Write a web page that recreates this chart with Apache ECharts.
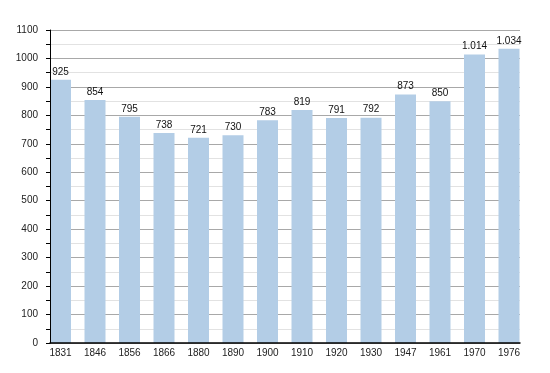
<!DOCTYPE html>
<html>
<head>
<meta charset="utf-8">
<script src="https://cdn.jsdelivr.net/npm/echarts@6/dist/echarts.min.js"></script>
<style>html,body{margin:0;padding:0;background:#fff;}#c{width:550px;height:373px;}</style>
</head>
<body>
<div id="c"></div>
<script>
const categories = ['1831','1846','1856','1866','1880','1890','1900','1910','1920','1930','1947','1961','1970','1976'];
const population = [925, 854, 795, 738, 721, 730, 783, 819, 791, 792, 873, 850, 1014, 1034];
const yTicks = [0,100,200,300,400,500,600,700,800,900,1000,1100];

function fmt(v){
  const s = String(v);
  return s.length > 3 ? s.slice(0, s.length-3) + '.' + s.slice(-3) : s;
}

const font = 'Liberation Sans, Arial, sans-serif';
const yMin = yTicks[0], yMax = yTicks[yTicks.length-1];
const chart = echarts.init(document.getElementById('c'), null, {renderer:'canvas'});
chart.setOption({
  animation: false,
  backgroundColor: '#fff',
  grid: [
    {left: 50, top: 30, width: 470, height: 313},
    {left: 43.25, top: 30, width: 483, height: 313}
  ],
  xAxis: [
    {type: 'category', gridIndex: 0, data: categories, boundaryGap: true, z: 5,
     axisLine: {show: true, lineStyle: {color: '#000', width: 1.5}},
     axisTick: {show: false}, axisLabel: {show: false}, splitLine: {show: false}},
    {type: 'category', gridIndex: 1, data: categories, boundaryGap: true,
     axisLine: {show: false}, axisTick: {show: false},
     axisLabel: {show: true, color: '#222', fontFamily: font, fontSize: 10, margin: 5},
     splitLine: {show: false}}
  ],
  yAxis: [
    {type: 'value', gridIndex: 0, min: yMin, max: yMax, interval: 100, z: 0,
     axisLine: {show: false}, axisTick: {show: false}, axisLabel: {show: false},
     splitLine: {show: true, lineStyle: {color: '#a8a8a8', width: 1}},
     minorSplitLine: {show: true, lineStyle: {color: '#e2e2e2', width: 1}},
     minorTick: {show: false, splitNumber: 2}},
    {type: 'value', gridIndex: 1, min: yMin, max: yMax, show: false, splitLine: {show: false}},
    {type: 'value', gridIndex: 0, min: yMin, max: yMax, interval: 100, position: 'left', z: 5,
     axisLine: {show: true, lineStyle: {color: '#000', width: 1}},
     axisTick: {show: true, length: 4, lineStyle: {color: '#000'}},
     minorTick: {show: true, splitNumber: 2, length: 4, lineStyle: {color: '#000'}},
     axisLabel: {color: '#222', fontFamily: font, fontSize: 10, margin: 12, formatter: v => String(v)},
     splitLine: {show: false}, minorSplitLine: {show: false}}
  ],
  series: [{
    type: 'bar', xAxisIndex: 1, yAxisIndex: 1, data: population, barWidth: 21,
    itemStyle: {color: '#b3cde6'},
    label: {show: true, position: 'top', distance: 3, color: '#111', fontFamily: font, fontSize: 10,
            formatter: p => fmt(p.value)}
  }]
});
</script>
</body>
</html>
